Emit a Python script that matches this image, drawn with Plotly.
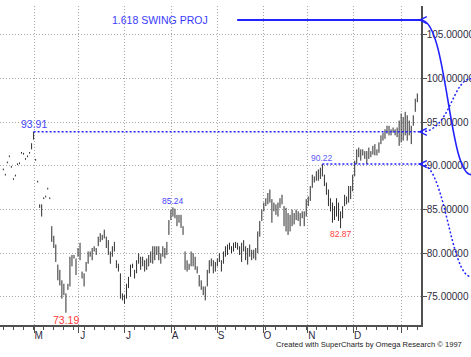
import plotly.graph_objects as go

# ---------------- data (daily bars, index = trading day) ----------------
high = [
    89.7, 89.1, 90.5, 91.2, 90.0, 88.6, 89.0, 90.3, 90.4, 91.6, 91.5, 90.9, 91.2, 91.6, 92.6, 93.91,
    90.8, 88.3, 85.6, 85.6, 86.4, 86.6, 87.5, 86.4,
    83.1, 82.0, 81.0, 78.7, 78.1, 76.9, 76.5, 75.4, 76.5, 79.6, 79.8, 79.8, 79.4, 80.6, 81.2, 77.9,
    77.7, 79.0, 80.2, 80.2, 80.6, 80.8, 80.6, 81.9, 82.3, 82.1, 82.7, 81.9, 81.5, 80.2, 80.8, 81.3,
    79.2, 78.8, 77.7, 75.4, 75.2, 76.5, 77.3, 78.7, 78.8, 78.1, 79.2, 80.0, 79.6, 79.6, 79.2, 79.4,
    79.8, 80.2, 80.8, 80.8, 80.8, 80.8, 80.0, 80.8, 80.6, 81.3, 83.8, 85.0, 85.24, 85.1, 84.4, 84.4,
    84.4, 83.1, 80.2, 79.2, 78.8, 80.2, 80.0, 79.6, 78.5, 77.5, 76.9, 76.2, 76.2, 78.1, 79.2, 79.4,
    79.2, 79.0, 79.4, 80.0, 79.2, 80.2, 80.8, 81.0, 81.2, 80.8, 81.2, 81.3, 81.2, 80.8, 81.2, 81.5,
    80.8, 80.6, 81.0, 80.4, 80.4, 80.6, 82.5, 83.7, 85.0, 85.8, 86.3, 86.9, 87.3, 86.2, 85.8, 85.6,
    85.8, 86.3, 86.7, 85.4, 85.2, 84.6, 84.4, 85.0, 84.6, 85.0, 84.8, 84.6, 84.8, 84.8, 86.2, 86.5,
    87.7, 89.0, 88.8, 89.4, 89.6, 89.8, 90.22, 89.0, 88.1, 87.3, 86.3, 85.8, 85.4, 86.3, 85.8, 84.8,
    85.4, 86.7, 86.5, 87.7, 87.7, 89.0, 90.6, 91.9, 92.1, 91.9, 91.9, 91.7, 91.7, 92.1, 91.7, 92.3,
    92.5, 91.9, 92.7, 93.5, 93.8, 94.2, 94.6, 94.6, 94.2, 94.4, 94.2, 94.4, 95.2, 96.0, 95.6, 96.2,
    95.8, 95.2, 94.6, 95.8, 97.7, 98.3,
]
low = [
    89.5, 88.9, 90.3, 91.0, 89.8, 88.4, 88.8, 90.1, 90.2, 91.4, 91.3, 90.7, 91.0, 91.4, 91.9, 93.0,
    90.6, 88.1, 85.2, 84.2, 86.2, 86.4, 87.3, 86.2,
    81.3, 80.6, 79.0, 76.9, 76.3, 74.8, 75.2, 73.19, 75.8, 76.2, 78.5, 79.4, 77.5, 79.6, 79.2, 77.1,
    76.2, 77.9, 78.8, 79.6, 79.2, 80.2, 79.8, 80.8, 81.3, 81.5, 81.7, 80.6, 79.8, 78.8, 79.6, 80.2,
    78.3, 77.9, 74.8, 74.6, 74.2, 74.8, 76.0, 77.3, 78.3, 77.1, 77.7, 78.8, 78.1, 78.5, 77.9, 78.1,
    78.5, 78.9, 78.8, 79.2, 79.8, 79.2, 78.8, 79.6, 79.4, 79.8, 82.1, 83.8, 84.2, 84.0, 83.1, 83.5,
    82.9, 82.1, 78.1, 77.9, 78.1, 78.5, 78.5, 78.1, 77.7, 76.2, 75.8, 75.2, 74.6, 76.2, 77.7, 78.5,
    77.7, 77.9, 78.5, 79.0, 77.9, 78.8, 79.6, 79.8, 80.4, 80.0, 80.2, 80.6, 80.4, 79.8, 79.0, 80.2,
    79.2, 78.7, 79.6, 79.2, 79.4, 79.2, 80.0, 81.9, 83.7, 84.8, 85.4, 85.6, 85.8, 83.5, 84.8, 84.4,
    84.2, 85.2, 85.6, 83.1, 82.5, 82.1, 82.5, 83.1, 83.3, 83.8, 83.7, 83.1, 84.0, 83.1, 84.2, 85.4,
    86.0, 87.5, 88.1, 88.3, 88.3, 88.5, 88.8, 87.7, 86.7, 85.4, 84.8, 83.5, 83.8, 84.2, 83.7, 82.87,
    84.0, 85.4, 85.6, 85.8, 86.2, 87.1, 88.8, 90.2, 91.0, 90.6, 91.2, 90.8, 90.2, 90.8, 91.0, 91.3,
    91.2, 91.2, 91.5, 92.5, 92.9, 93.1, 93.7, 93.5, 93.5, 93.8, 93.5, 93.3, 92.3, 92.7, 92.9, 93.5,
    92.9, 93.5, 92.5, 94.6, 96.2, 97.3,
]
assert len(high) == len(low)
days = list(range(len(high)))

month_ticks = [15.56, 37.36, 59.96, 83.1, 105.9, 128.8, 150.8, 173.4, 197.4]
month_labels = ["M", "J", "J", "A", "S", "O", "N", "D", ""]
price_ticks = [75, 80, 85, 90, 95, 100, 105]

swing_high_day, swing_high = 15, 93.91
swing_low_day, swing_low = 31, 73.19
peak_day, peak = 84, 85.24
nov_high_day, nov_high = 158, 90.22
nov_low_day, nov_low = 167, 82.87
proj_ratio = 1.618
proj_level = swing_low + proj_ratio * (swing_high - swing_low)
target_up = 100.0
target_mid = 89.0
target_down = 77.3

# ---------------- styling ----------------
W, H = 471, 357
ML, MR, MT, MB = 0, 50.3, 6, 32
PW = W - ML - MR
XRANGE = [-1.635, 206.83]
YRANGE = [71.78, 108.32]
FONT = "Liberation Sans, Arial, sans-serif"
BLUE = "#2222ff"
LBLUE = "#4646ff"
RED = "#ff3b3b"
AXC = "#505050"
TXT = "#2e2c44"

def px(p):
    return p / PW

# high-low bars drawn as vertical segments
seg_x, seg_y = [], []
for d, h, l in zip(days, high, low):
    seg_x += [d, d, None]
    seg_y += [l, h, None]

fig = go.Figure()
fig.add_trace(go.Scatter(
    x=seg_x, y=seg_y, mode="lines", line=dict(color="#2e2e2e", width=1),
    hoverinfo="skip", showlegend=False, connectgaps=False,
))

shapes = []
# projection line
shapes.append(dict(type="line", xref="paper", yref="y", x0=px(237), x1=1.0,
                   y0=proj_level, y1=proj_level, line=dict(color=BLUE, width=1.8)))
# dotted swing levels
for d0, lvl in [(swing_high_day, swing_high), (nov_high_day, nov_high)]:
    shapes.append(dict(type="line", xref="x", yref="y", x0=d0, x1=XRANGE[1],
                       y0=lvl, y1=lvl, line=dict(color=BLUE, width=1.5, dash="2px,2px")))
# curves right of the axis
def curve(y0, y1, c1, c2, dash, width):
    path = (f"M {px(420.7)},{y0} C {px(c1)},{y0} {px(c2)},{y1} {px(471)},{y1}")
    return dict(type="path", xref="paper", yref="y", path=path,
                line=dict(color=BLUE, width=width, dash=dash))
shapes.append(curve(proj_level, target_mid, 447, 448, "solid", 1.6))
shapes.append(curve(swing_high, target_up, 450, 452, "2px,2px", 1.5))
shapes.append(curve(nov_high, target_down, 445, 450, "2px,2px", 1.5))
# arrowheads
dy = 3.5 * (YRANGE[1] - YRANGE[0]) / (H - MT - MB)
for lvl in [proj_level, swing_high, nov_high]:
    shapes.append(dict(type="path", xref="paper", yref="y",
                       path=f"M {px(426.5)},{lvl + dy} L {px(419.5)},{lvl} L {px(426.5)},{lvl - dy}",
                       line=dict(color=BLUE, width=1.4)))

annotations = [
    dict(x=px(209.5), y=proj_level, xref="paper", yref="y", text="1.618 SWING PROJ",
         showarrow=False, xanchor="right", yanchor="middle",
         font=dict(family=FONT, size=10.5, color="#3a3aff")),
    dict(x=swing_high_day, y=swing_high, text=f"{swing_high:.2f}", showarrow=False,
         yanchor="bottom", yshift=0, font=dict(family=FONT, size=10.5, color=LBLUE)),
    dict(x=swing_low_day, y=swing_low, text=f"{swing_low:.2f}", showarrow=False,
         yanchor="top", yshift=1, font=dict(family=FONT, size=10.5, color=RED)),
    dict(x=peak_day, y=peak, text=f"{peak:.2f}", showarrow=False,
         yanchor="bottom", yshift=-1, font=dict(family=FONT, size=8.5, color=LBLUE)),
    dict(x=nov_high_day, y=nov_high, text=f"{nov_high:.2f}", showarrow=False,
         yanchor="bottom", yshift=-1, font=dict(family=FONT, size=8.5, color="#5a5aff")),
    dict(x=nov_low_day, y=nov_low, text=f"{nov_low:.2f}", showarrow=False,
         yanchor="top", yshift=1, font=dict(family=FONT, size=8.5, color=RED)),
    dict(x=px(464), y=-19.5 / (H - MT - MB), xref="paper", yref="paper",
         text="Created with SuperCharts by Omega Research \u00a9 1997", showarrow=False,
         xanchor="right", yanchor="middle", font=dict(family=FONT, size=7.6, color="#222222")),
]

fig.update_layout(
    width=W, height=H, margin=dict(l=ML, r=MR, t=MT, b=MB, pad=0),
    paper_bgcolor="white", plot_bgcolor="white",
    shapes=shapes, annotations=annotations, showlegend=False,
    xaxis=dict(range=XRANGE, tickmode="array", tickvals=month_ticks, ticktext=month_labels,
               showgrid=True, gridcolor="#a8a8a8", griddash="1px,2px", gridwidth=1,
               zeroline=False, showline=True, linecolor=AXC, linewidth=2,
               ticks="outside", ticklen=6, tickcolor=AXC, tickwidth=1,
               ticklabelshift=4, ticklabelstandoff=-6,
               tickfont=dict(family=FONT, size=10, color=TXT), automargin=False,
               minor=dict(ticks="outside", ticklen=3, tickcolor=AXC, tick0=0, dtick=5, showgrid=False)),
    yaxis=dict(range=YRANGE, side="right", tickmode="array", tickvals=price_ticks,
               ticktext=[f"{v:.5f}" for v in price_ticks],
               showgrid=True, gridcolor="#a8a8a8", griddash="1px,2px", gridwidth=1,
               zeroline=False, showline=True, linecolor=AXC, linewidth=1.5,
               ticks="outside", ticklen=4, tickcolor=AXC, automargin=False,
               ticklabelstandoff=-2,
               tickfont=dict(family=FONT, size=10, color=TXT)),
)

fig.write_html("out.html", config={"displayModeBar": False},
               post_script="document.body.style.margin='0';")
